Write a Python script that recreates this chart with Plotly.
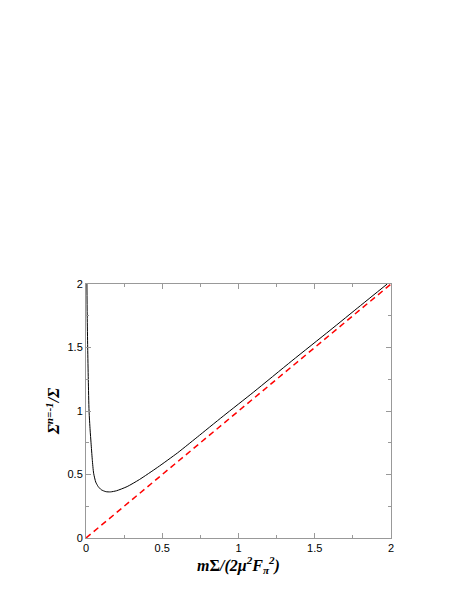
import plotly.graph_objects as go

# Black curve: Sigma^{n=-1}/Sigma vs m Sigma/(2 mu^2 F_pi^2)
x_curve = [0.006, 0.008, 0.011, 0.015, 0.020, 0.027, 0.033, 0.041, 0.050, 0.064,
           0.080, 0.100, 0.130, 0.160, 0.200, 0.270, 0.350, 0.470, 0.600, 0.668,
           0.730, 0.900, 1.100, 1.350, 1.600, 1.800, 1.975]
y_curve = [2.00, 1.75, 1.50, 1.25, 1.00, 0.85, 0.75, 0.62, 0.51, 0.44,
           0.405, 0.38, 0.365, 0.363, 0.372, 0.405, 0.46, 0.557, 0.67, 0.735,
           0.795, 0.96, 1.15, 1.395, 1.635, 1.83, 2.00]

# Red dashed reference line
x_line = [0, 2]
y_line = [0, 2]

x_ticks = [0, 0.5, 1, 1.5, 2]
y_ticks = [0, 0.5, 1, 1.5, 2]
x_ticktext = ["0", "0.5", "1", "1.5", "2"]
y_ticktext = ["0", "0.5", "1", "1.5", "2"]

fig = go.Figure()
fig.add_trace(go.Scatter(x=x_line, y=y_line, mode="lines",
                         line=dict(color="red", width=1.5, dash="6px,4px"),
                         showlegend=False))
fig.add_trace(go.Scatter(x=x_curve, y=y_curve, mode="lines",
                         line=dict(color="black", width=1, shape="spline", smoothing=0.6),
                         showlegend=False))

axis_common = dict(showgrid=False, zeroline=False, showline=True, linecolor="#999999",
                   linewidth=1, mirror="allticks", ticks="inside", ticklen=5,
                   tickcolor="#999999", tickfont=dict(family="Liberation Sans", size=11, color="black"),
                   minor=dict(ticks="inside", ticklen=3, tickcolor="#999999", dtick=0.25))

fig.update_xaxes(range=[0, 2], tickvals=x_ticks, ticktext=x_ticktext,
                 title=dict(text="<b><i>m</i>Σ<i>/(2μ<sup>2</sup>F<sub>π</sub><sup>2</sup>)</i></b>",
                            font=dict(family="Liberation Serif", size=16, color="black"), standoff=2),
                 **axis_common)
fig.update_yaxes(range=[0, 2], tickvals=y_ticks, ticktext=y_ticktext,
                 title=dict(text="<b><i>Σ<sup>n=-1</sup>/Σ</i></b>",
                            font=dict(family="Liberation Serif", size=16, color="black"), standoff=3),
                 **axis_common)

fig.update_layout(width=463, height=599, paper_bgcolor="white", plot_bgcolor="white",
                  margin=dict(l=78, r=80, t=276, b=69))

fig.write_html("out.html")
